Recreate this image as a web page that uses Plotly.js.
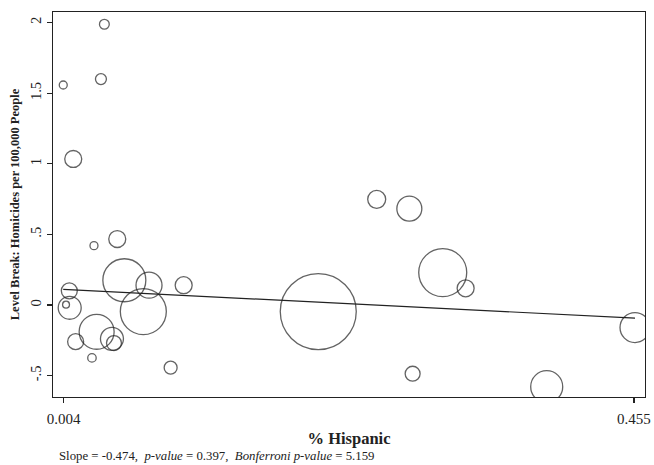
<!DOCTYPE html>
<html>
<head>
<meta charset="utf-8">
<script src="https://cdn.plot.ly/plotly-3.0.1.min.js"></script>
<style>
  html, body { margin: 0; padding: 0; background: #fff; }
  #chart { width: 654px; height: 465px; }
</style>
</head>
<body>
<div id="chart"></div>
<script>
// Share Hispanic (x), level break in homicides per 100,000 (y), and bubble weights
const pctHispanic = [0.0363, 0.0038, 0.0336, 0.0117, 0.0465, 0.0281, 0.0521, 0.0716, 0.0990,
  0.0086, 0.0089, 0.0060, 0.0671, 0.0302, 0.0423, 0.0439, 0.0136, 0.0265, 0.0887,
  0.2054, 0.2516, 0.2774, 0.3038, 0.3219, 0.4558, 0.3860, 0.2800];
const levelBreak = [1.988, 1.558, 1.600, 1.034, 0.467, 0.420, 0.175, 0.140, 0.140,
  0.100, -0.020, 0.002, -0.047, -0.190, -0.240, -0.270, -0.260, -0.375, -0.444,
  -0.047, 0.748, 0.682, 0.229, 0.118, -0.160, -0.579, -0.487];
const weights = [24, 16, 30, 72, 72, 16, 462, 169, 72,
  64, 132, 12, 529, 306, 132, 56, 64, 18, 42,
  1444, 81, 156, 576, 72, 225, 256, 56];
const fitIntercept = 0.1127;
const fitSlope = -0.453;
const xTickVals = [0.004, 0.455];
const xTickText = ["0.004", "0.455"];
const yTickVals = [2, 1.5, 1, 0.5, 0, -0.5];
const yTickText = ["2", "1.5", "1", ".5", "0", "-.5"];

const xMin = Math.min(...pctHispanic), xMax = Math.max(...pctHispanic);
const fitX = [xMin, xMax];
const fitY = fitX.map(v => fitIntercept + fitSlope * v);

const serif = "Liberation Serif, DejaVu Serif, serif";
const ink = "#222";

const traces = [
  {
    x: pctHispanic, y: levelBreak, type: "scatter", mode: "markers",
    marker: {
      size: weights, sizemode: "area", sizeref: 0.5,
      color: "rgba(0,0,0,0)",
      line: { color: ink, width: 1.3 }
    },
    hoverinfo: "x+y"
  },
  {
    x: fitX, y: fitY, type: "scatter", mode: "lines",
    line: { color: ink, width: 1.2 }, hoverinfo: "skip"
  }
];

const layout = {
  width: 654, height: 465,
  margin: { l: 53, r: 9, t: 12, b: 68 },
  paper_bgcolor: "#fff", plot_bgcolor: "#fff",
  showlegend: false,
  font: { family: serif, color: ink, size: 14 },
  xaxis: {
    range: [-0.0043, 0.4637],
    tickvals: xTickVals, ticktext: xTickText,
    ticks: "outside", ticklen: 5, tickwidth: 1.2, tickcolor: ink,
    ticklabelstandoff: 3,
    showgrid: false, zeroline: false,
    showline: true, linecolor: ink, linewidth: 1.3, mirror: true,
    tickfont: { family: serif, size: 15, color: ink },
    title: { text: "<b>% Hispanic</b>", font: { family: serif, size: 16.5, color: ink }, standoff: 6 }
  },
  yaxis: {
    range: [-0.652, 2.075],
    tickvals: yTickVals, ticktext: yTickText,
    ticks: "outside", ticklen: 5, tickwidth: 1.2, tickcolor: ink,
    tickangle: -90,
    showgrid: false, zeroline: false,
    showline: true, linecolor: ink, linewidth: 1.3, mirror: true,
    tickfont: { family: serif, size: 14.5, color: ink },
    title: { text: "<b>Level Break: Homicides per 100,000 People</b>", font: { family: serif, size: 12.5, color: ink }, standoff: 5 }
  },
  annotations: [
    {
      xref: "paper", yref: "paper", x: 0.006, y: -0.153, xanchor: "left", yanchor: "middle",
      showarrow: false,
      text: "Slope = -0.474,  <i>p-value</i> = 0.397,  <i>Bonferroni p-value</i> = 5.159",
      font: { family: serif, size: 12.8, color: ink }
    }
  ]
};

Plotly.newPlot("chart", traces, layout, { displayModeBar: false, staticPlot: true });
</script>
</body>
</html>
